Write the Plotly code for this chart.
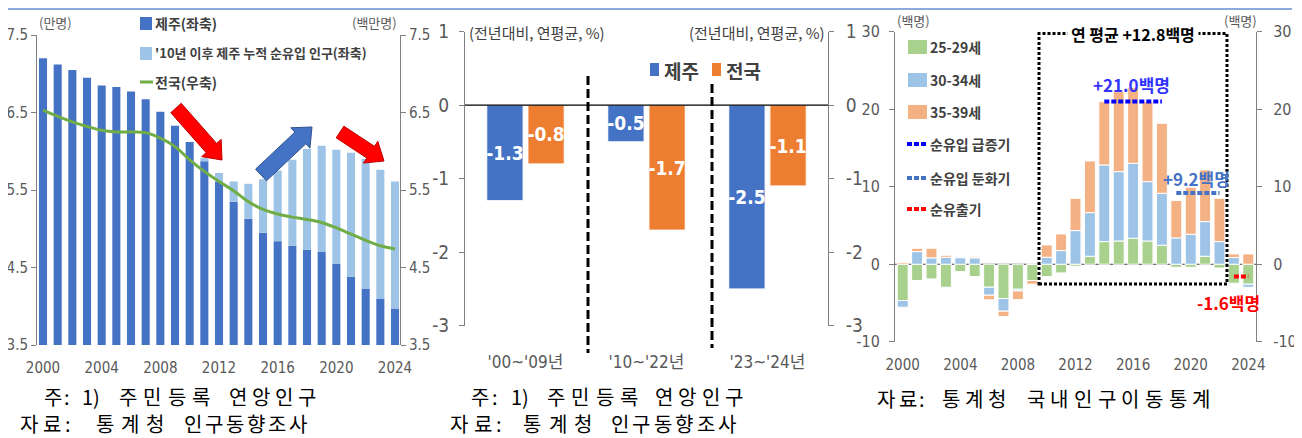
import plotly.graph_objects as go

# reference-pixel layout; the page body adds an 8px offset, so the figure is drawn 8px smaller
OFF = 8
W, H = 1302 - OFF, 438 - OFF

# ---------------- data ----------------
years = list(range(2000, 2025))
# Panel 1 (만명 / 백만명)
jeju_pop = [7.20, 7.12, 7.05, 6.95, 6.85, 6.83, 6.77, 6.67, 6.51, 6.33, 6.12, 5.87, 5.61,
            5.35, 5.13, 4.95, 4.84, 4.78, 4.73, 4.70, 4.55, 4.38, 4.23, 4.10, 3.97]
jeju_cum_inflow = [0, 0, 0, 0, 0, 0, 0, 0, 0, 0, 0, 0.04, 0.11,
                   0.26, 0.45, 0.69, 0.91, 1.11, 1.30, 1.37, 1.47, 1.60, 1.67, 1.66, 1.64]
national_pop = [6.53, 6.45, 6.38, 6.32, 6.27, 6.25, 6.25, 6.24, 6.17, 6.06, 5.89, 5.74, 5.61,
                5.49, 5.35, 5.25, 5.19, 5.15, 5.12, 5.08, 5.01, 4.93, 4.85, 4.78, 4.74]
p1_ticks = [3.5, 4.5, 5.5, 6.5, 7.5]
p1_ticktext = ["3.5", "4.5", "5.5", "6.5", "7.5"]

# Panel 2 (전년대비, 연평균, %)
periods = ["'00~'09년", "'10~'22년", "'23~'24년"]
growth_jeju = [-1.3, -0.5, -2.5]
growth_nat = [-0.8, -1.7, -1.1]
p2_ticks = [-3, -2, -1, 0, 1]
p2_ticktext = ["-3", "-2", "-1", "0", "1"]

# Panel 3 (백명)
mig_25_29 = [-4.69, -2.10, -1.90, -2.97, -0.95, -1.60, -2.97, -4.43, -3.23, -2.10, -1.60, -1.12, -0.26,
             1.03, 2.92, 3.00, 3.35, 3.00, 2.45, -0.40, -0.40, 1.03, -0.50, -2.45, -2.58]
mig_30_34 = [-0.86, 1.63, 0.82, 0.90, 0.82, 0.82, -1.03, -1.63, -0.22, 0.0, 0.90, 1.76, 4.34,
             5.63, 9.89, 8.95, 9.68, 7.66, 6.71, 3.40, 3.87, 4.47, 2.92, 0.86, -0.39]
mig_35_39 = [0.20, 0.43, 1.25, 0.26, -0.13, 0.13, -0.60, -0.69, -1.12, -0.47, 1.59, 2.15, 4.17,
             6.67, 8.17, 10.32, 9.81, 10.32, 9.03, 4.82, 6.06, 6.67, 5.59, 0.47, 1.33]
surge_years = [2014, 2018]
surge_avg = 21.0
slow_years = [2019, 2022]
slow_avg = 9.2
out_years = [2023, 2024]
out_avg = -1.6
overall_avg = 12.8
p3_ticks = [-10, 0, 10, 20, 30]
p3_ticktext = ["-10", "0", "10", "20", "30"]

# ---------------- helpers ----------------
def px(x):
    return (x - OFF) / W

def py(y):
    return 1 - (y - OFF) / H

KR = "Noto Sans CJK KR"
NUM = "Liberation Sans Narrow, DejaVu Sans Condensed, Liberation Sans"
GRAY = "#595959"
DGRAY = "#404040"

fig = go.Figure()

# ---------------- panel 1 ----------------
fig.add_trace(go.Bar(x=years, y=jeju_pop, width=0.55, marker=dict(color="#4472C4", line=dict(width=0)),
                     xaxis="x", yaxis="y", showlegend=False))
fig.add_trace(go.Bar(x=years, y=jeju_cum_inflow, width=0.55, marker=dict(color="#9DC3E6", line=dict(width=0)),
                     xaxis="x", yaxis="y", showlegend=False))
fig.add_trace(go.Scatter(x=years, y=national_pop, mode="lines", line=dict(color="#70AD47", width=3, shape="spline"),
                         xaxis="x", yaxis="y2", showlegend=False))

# ---------------- panel 2 ----------------
idx = list(range(len(periods)))
fig.add_trace(go.Bar(x=[i - 0.17 for i in idx], y=growth_jeju, width=0.30,
                     marker=dict(color="#4472C4", line=dict(color="white", width=1)),
                     text=[f"{v:.1f}" for v in growth_jeju], textposition="inside", insidetextanchor="middle",
                     constraintext="none", textangle=0,
                     textfont=dict(color="white", size=19, family=NUM, weight="bold"),
                     xaxis="x2", yaxis="y3", showlegend=False))
fig.add_trace(go.Bar(x=[i + 0.17 for i in idx], y=growth_nat, width=0.30,
                     marker=dict(color="#ED7D31", line=dict(color="white", width=1)),
                     text=[f"{v:.1f}" for v in growth_nat], textposition="inside", insidetextanchor="middle",
                     constraintext="none", textangle=0,
                     textfont=dict(color="white", size=19, family=NUM, weight="bold"),
                     xaxis="x2", yaxis="y3", showlegend=False))
fig.add_trace(go.Scatter(x=[idx[0]], y=[growth_jeju[0]], mode="markers", marker=dict(opacity=0),
                         hoverinfo="skip", xaxis="x2", yaxis="y4", showlegend=False))

# ---------------- panel 3 ----------------
for vals, col in [(mig_25_29, "#A9D18E"), (mig_30_34, "#9DC3E6"), (mig_35_39, "#F4B183")]:
    fig.add_trace(go.Bar(x=years, y=vals, width=0.76, marker=dict(color=col, line=dict(color="white", width=1)),
                         xaxis="x3", yaxis="y5", showlegend=False))
fig.add_trace(go.Scatter(x=surge_years, y=[surge_avg] * 2, mode="lines",
                         line=dict(color="#0000FF", width=4, dash="5px,2px"), xaxis="x3", yaxis="y5", showlegend=False))
fig.add_trace(go.Scatter(x=slow_years, y=[slow_avg] * 2, mode="lines",
                         line=dict(color="#4472C4", width=4, dash="5px,2px"), xaxis="x3", yaxis="y5", showlegend=False))
fig.add_trace(go.Scatter(x=out_years, y=[out_avg] * 2, mode="lines",
                         line=dict(color="#FF0000", width=4, dash="5px,2px"), xaxis="x3", yaxis="y5", showlegend=False))
fig.add_trace(go.Scatter(x=[years[0]], y=[0], mode="markers", marker=dict(opacity=0),
                         hoverinfo="skip", xaxis="x3", yaxis="y6", showlegend=False))

# ---------------- axes ----------------
axline = dict(showline=True, linecolor="#808080", linewidth=1, ticks="outside", ticklen=5,
              tickcolor="#808080", showgrid=False, zeroline=False, automargin=False)
xbase = dict(ticks="", showline=False, showgrid=False, zeroline=False, automargin=False)

P1 = (37, 400, 35, 345)
P2 = (465, 828, 31.5, 325.7)
P3 = (895, 1256, 31.8, 341.7)

layout = dict(
    width=W, height=H, margin=dict(l=0, r=0, t=0, b=0, pad=0, autoexpand=False),
    paper_bgcolor="white", plot_bgcolor="rgba(0,0,0,0)",
    barmode="relative", showlegend=False,
    xaxis=dict(domain=[px(P1[0]), px(P1[1])], range=[1999.59, 2024.34], anchor="y",
               tickvals=list(range(2000, 2025, 4)),
               tickfont=dict(family=NUM, size=15, color=GRAY), ticklabelstandoff=12, **xbase),
    yaxis=dict(domain=[py(P1[3]), py(P1[2])], range=[3.5, 7.5], anchor="x",
               tickvals=p1_ticks, ticktext=p1_ticktext, ticklabelstandoff=0,
               tickfont=dict(family=NUM, size=15, color=GRAY), **axline),
    yaxis2=dict(overlaying="y", side="right", anchor="x", range=[3.5, 7.5],
                tickvals=p1_ticks, ticktext=p1_ticktext, ticklabelstandoff=0,
                tickfont=dict(family=NUM, size=15, color=GRAY), **axline),
    xaxis2=dict(domain=[px(P2[0]), px(P2[1])], range=[-0.5, 2.5], anchor="y3",
                tickvals=idx, ticktext=periods,
                tickfont=dict(family=NUM + ", " + KR, size=17, color=GRAY),
                ticklabelstandoff=24, **xbase),
    yaxis3=dict(domain=[py(P2[3]), py(P2[2])], range=[-3, 1], anchor="x2",
                tickvals=p2_ticks, ticktext=p2_ticktext, ticklabelstandoff=6,
                tickfont=dict(family=NUM, size=19, color=GRAY), **axline),
    yaxis4=dict(overlaying="y3", side="right", anchor="x2", range=[-3, 1],
                tickvals=p2_ticks, ticktext=p2_ticktext, ticklabelstandoff=8,
                tickfont=dict(family=NUM, size=19, color=GRAY), **axline),
    xaxis3=dict(domain=[px(P3[0]), px(P3[1])], range=[1999.465, 2024.535], anchor="y5",
                tickvals=list(range(2000, 2025, 4)),
                tickfont=dict(family=NUM, size=15, color=GRAY), ticklabelstandoff=12, **xbase),
    yaxis5=dict(domain=[py(P3[3]), py(P3[2])], range=[-10, 30], anchor="x3",
                tickvals=p3_ticks, ticktext=p3_ticktext, ticklabelstandoff=6,
                tickfont=dict(family=NUM, size=16, color=GRAY), **axline),
    yaxis6=dict(overlaying="y5", side="right", anchor="x3", range=[-10, 30],
                tickvals=p3_ticks, ticktext=p3_ticktext, ticklabelstandoff=8,
                tickfont=dict(family=NUM, size=16, color=GRAY), **axline),
)
fig.update_layout(**layout)

# ---------------- shapes ----------------
shapes = []
shapes.append(dict(type="line", xref="paper", yref="paper", x0=0, x1=px(1292), y0=py(9), y1=py(9),
                   line=dict(color="#8EA9DB", width=2)))
shapes.append(dict(type="line", xref="x2 domain", yref="y3", x0=0, x1=1, y0=0, y1=0,
                   line=dict(color="black", width=1.2)))
shapes.append(dict(type="line", xref="x3 domain", yref="y5", x0=0, x1=1, y0=0, y1=0,
                   line=dict(color="#404040", width=1.2), layer="below"))
shapes.append(dict(type="line", xref="paper", yref="paper", x0=px(588), x1=px(588), y0=py(76), y1=py(353),
                   line=dict(color="black", width=3, dash="9px,4px")))
shapes.append(dict(type="line", xref="paper", yref="paper", x0=px(712), x1=px(712), y0=py(84), y1=py(348),
                   line=dict(color="black", width=3, dash="9px,4px")))
shapes.append(dict(type="rect", xref="paper", yref="paper", x0=px(1039), x1=px(1227), y0=py(284), y1=py(33.5),
                   line=dict(color="black", width=3, dash="3px,2px")))


def block_arrow(x0, y0, x1, y1, shaft=7, head=13, headlen=16, fill="red", line="#C00000"):
    import math
    dx, dy = x1 - x0, y1 - y0
    L = math.hypot(dx, dy)
    ux, uy = dx / L, dy / L
    nx, ny = -uy, ux
    bx, by = x1 - ux * headlen, y1 - uy * headlen
    pts = [(x0 + nx * shaft, y0 + ny * shaft), (bx + nx * shaft, by + ny * shaft),
           (bx + nx * head, by + ny * head), (x1, y1),
           (bx - nx * head, by - ny * head), (bx - nx * shaft, by - ny * shaft),
           (x0 - nx * shaft, y0 - ny * shaft)]
    path = "M " + " L ".join(f"{px(a):.5f},{py(b):.5f}" for a, b in pts) + " Z"
    return dict(type="path", xref="paper", yref="paper", path=path, fillcolor=fill,
                line=dict(color=line, width=1))

shapes.append(block_arrow(176, 108, 222, 160))
shapes.append(block_arrow(261, 175, 312, 127, shaft=8, head=14, fill="#4472C4", line="#2F528F"))
shapes.append(block_arrow(340, 132, 384, 161))

shapes.append(dict(type="rect", xref="paper", yref="paper", x0=px(140), x1=px(152), y0=py(30), y1=py(17),
                   fillcolor="#4472C4", line=dict(width=0)))
shapes.append(dict(type="rect", xref="paper", yref="paper", x0=px(140), x1=px(152), y0=py(60), y1=py(47),
                   fillcolor="#9DC3E6", line=dict(width=0)))
shapes.append(dict(type="line", xref="paper", yref="paper", x0=px(140), x1=px(153), y0=py(82), y1=py(82),
                   line=dict(color="#70AD47", width=3)))
shapes.append(dict(type="rect", xref="paper", yref="paper", x0=px(650), x1=px(659), y0=py(76), y1=py(63),
                   fillcolor="#4472C4", line=dict(width=0)))
shapes.append(dict(type="rect", xref="paper", yref="paper", x0=px(712), x1=px(721), y0=py(76), y1=py(63),
                   fillcolor="#ED7D31", line=dict(width=0)))
for yc, col in [(47, "#A9D18E"), (80, "#9DC3E6"), (112, "#F4B183")]:
    shapes.append(dict(type="rect", xref="paper", yref="paper", x0=px(908), x1=px(927), y0=py(yc + 7), y1=py(yc - 7),
                       fillcolor=col, line=dict(width=0)))
for yc, col in [(144, "#0000FF"), (178, "#4472C4"), (209, "#FF0000")]:
    shapes.append(dict(type="line", xref="paper", yref="paper", x0=px(907), x1=px(928), y0=py(yc), y1=py(yc),
                       line=dict(color=col, width=4, dash="5px,2px")))

fig.update_layout(shapes=shapes)

# ---------------- annotations ----------------
ann = []

def text(x, y, s, size=14, color=DGRAY, anchor="left", bold=False, family=KR, bg=None):
    d = dict(x=px(x), y=py(y), xref="paper", yref="paper", text=s, showarrow=False,
             xanchor=anchor, yanchor="middle", borderpad=0,
             font=dict(family=family, size=size, color=color, weight="bold" if bold else "normal"))
    if bg:
        d["bgcolor"] = bg
        d["borderpad"] = 3
    ann.append(d)


FN = 20  # footnote font size


def spread(word, x0, x1, y, size=FN):
    """place the characters of a word evenly between x0 and x1 (justified footnote text)"""
    n = len(word)
    step = (x1 - x0) / n
    for i, ch in enumerate(word):
        text(x0 + (i + 0.5) * step, y, ch, size, "black", anchor="center")


def footnote(parts, y):
    for word, x0, x1 in parts:
        spread(word, x0, x1, y)


R1, R2 = 396, 423

text(38, 22, "(만명)", 13, GRAY)
text(398, 22, "(백만명)", 13, GRAY, anchor="right")
text(154, 23, "제주(좌축)", 14, DGRAY, bold=True)
text(154, 53, "'10년 이후 제주 누적 순유입 인구(좌축)", 13, DGRAY, bold=True)
text(154, 82, "전국(우축)", 14, DGRAY, bold=True)
footnote([("주", 42, 63), (":", 63, 70)], R1)
text(91, R1, "1)", FN, "black", anchor="center")
footnote([("주민등록", 116, 213), ("연앙인구", 226, 318)], R1)
footnote([("자료", 17, 64), (":", 64, 72), ("통계청", 92, 168), ("인구동향조사", 182, 309)], R2)

text(468, 32, "(전년대비, 연평균, %)", 15, DGRAY)
text(826, 32, "(전년대비, 연평균, %)", 15, DGRAY, anchor="right")
text(663, 70, "제주", 19, DGRAY, bold=True)
text(725, 70, "전국", 19, DGRAY, bold=True)
footnote([("주", 469, 491), (":", 491, 498)], R1)
text(520, R1, "1)", FN, "black", anchor="center")
footnote([("주민등록", 544, 641), ("연앙인구", 652, 746)], R1)
footnote([("자료", 447, 495), (":", 495, 503), ("통계청", 519, 596), ("인구동향조사", 609, 738)], R2)

text(913, 20, "(백명)", 13, GRAY, anchor="center")
text(1240, 20, "(백명)", 13, GRAY, anchor="center")
text(1133, 34, f"연 평균 +{overall_avg:.1f}백명", 16, "black", anchor="center", bold=True, bg="white")
text(1131, 85, f"+{surge_avg:.1f}백명", 17, "#3333FF", anchor="center", bold=True)
text(1196, 178, f"+{slow_avg:.1f}백명", 17, "#4472C4", anchor="center", bold=True)
text(1228, 302, f"{out_avg:.1f}백명", 17, "#FF0000", anchor="center", bold=True)
text(929, 47, "25-29세", 14, DGRAY, bold=True)
text(929, 80, "30-34세", 14, DGRAY, bold=True)
text(929, 112, "35-39세", 14, DGRAY, bold=True)
text(929, 144, "순유입 급증기", 14, DGRAY, bold=True)
text(929, 178, "순유입 둔화기", 14, DGRAY, bold=True)
text(929, 209, "순유출기", 14, DGRAY, bold=True)
footnote([("자료", 876, 918), (":", 918, 926), ("통계청", 939, 1009), ("국내인구이동통계", 1024, 1213)], 398)

fig.update_layout(annotations=ann)

fig.write_html("out.html")
